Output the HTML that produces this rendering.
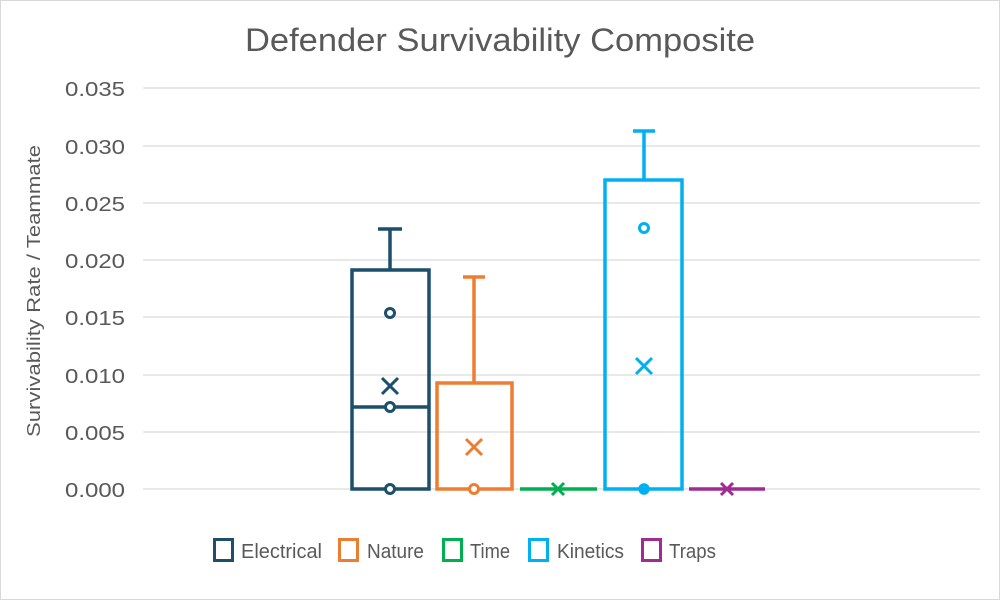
<!DOCTYPE html>
<html><head><meta charset="utf-8"><style>
html,body{margin:0;padding:0;background:#fff;}
svg{display:block;font-family:"Liberation Sans",sans-serif;}
</style></head><body>
<svg width="1000" height="600" viewBox="0 0 1000 600" xmlns="http://www.w3.org/2000/svg">
<rect x="0" y="0" width="1000" height="600" fill="#fff"/>
<rect x="0.5" y="0.5" width="999" height="599" fill="none" stroke="#d9d9d9"/>
<text x="245" y="51" font-size="32" fill="#595959" textLength="510" lengthAdjust="spacingAndGlyphs">Defender Survivability Composite</text>
<g stroke="#d9d9d9" stroke-width="1.3">
<line x1="143" x2="980" y1="88" y2="88"/>
<line x1="143" x2="980" y1="146" y2="146"/>
<line x1="143" x2="980" y1="203" y2="203"/>
<line x1="143" x2="980" y1="260" y2="260"/>
<line x1="143" x2="980" y1="317" y2="317"/>
<line x1="143" x2="980" y1="375" y2="375"/>
<line x1="143" x2="980" y1="432" y2="432"/>
<line x1="143" x2="980" y1="489" y2="489"/>
</g>
<g font-size="20" fill="#595959">
<text x="65" y="96" textLength="60" lengthAdjust="spacingAndGlyphs">0.035</text>
<text x="65" y="154" textLength="60" lengthAdjust="spacingAndGlyphs">0.030</text>
<text x="65" y="211" textLength="60" lengthAdjust="spacingAndGlyphs">0.025</text>
<text x="65" y="268" textLength="60" lengthAdjust="spacingAndGlyphs">0.020</text>
<text x="65" y="325" textLength="60" lengthAdjust="spacingAndGlyphs">0.015</text>
<text x="65" y="383" textLength="60" lengthAdjust="spacingAndGlyphs">0.010</text>
<text x="65" y="440" textLength="60" lengthAdjust="spacingAndGlyphs">0.005</text>
<text x="65" y="497" textLength="60" lengthAdjust="spacingAndGlyphs">0.000</text>
</g>
<text transform="translate(40,437) rotate(-90)" font-size="18" fill="#595959" textLength="292" lengthAdjust="spacingAndGlyphs">Survivability  Rate / Teammate</text>
<g fill="none" stroke-width="3.5">
<g stroke="#1b4f6b">
<rect x="352" y="270" width="77" height="219"/>
<line x1="352" x2="429" y1="407" y2="407"/>
<line x1="390" x2="390" y1="270" y2="229"/>
<line x1="378" x2="402" y1="229" y2="229"/>
<circle cx="390" cy="313" r="4.5" stroke-width="3" fill="#fff"/>
<circle cx="390" cy="407" r="4.5" stroke-width="3" fill="#fff"/>
<circle cx="390" cy="489" r="4.5" stroke-width="3" fill="#fff"/>
<path d="M382 378 L398 394 M398 378 L382 394" stroke-width="3"/>
</g>
<g stroke="#ed7d31">
<rect x="437" y="383" width="75" height="106"/>
<line x1="474" x2="474" y1="383" y2="277"/>
<line x1="463" x2="485" y1="277" y2="277"/>
<circle cx="474" cy="489" r="4.5" stroke-width="3" fill="#fff"/>
<path d="M466 439 L482 455 M482 439 L466 455" stroke-width="3"/>
</g>
<g stroke="#00b050">
<line x1="520" x2="597" y1="489" y2="489"/>
<path d="M552 483 L564 495 M564 483 L552 495" stroke-width="3"/>
</g>
<g stroke="#00b0f0">
<rect x="605" y="180" width="77" height="309"/>
<line x1="644" x2="644" y1="180" y2="131"/>
<line x1="633" x2="655" y1="131" y2="131"/>
<circle cx="644" cy="228" r="4.5" stroke-width="3" fill="#fff"/>
<circle cx="644" cy="489" r="5" fill="#00b0f0" stroke-width="1.5"/>
<path d="M636 358 L652 374 M652 358 L636 374" stroke-width="3"/>
</g>
<g stroke="#a02b93">
<line x1="689" x2="765" y1="489" y2="489"/>
<path d="M721 483 L733 495 M733 483 L721 495" stroke-width="3"/>
</g>
</g>
<g fill="none" stroke-width="3">
<rect x="214.5" y="539.5" width="18" height="21" stroke="#1b4f6b"/>
<rect x="339.5" y="539.5" width="18" height="21" stroke="#ed7d31"/>
<rect x="443.5" y="539.5" width="18" height="21" stroke="#00b050"/>
<rect x="529.5" y="539.5" width="18" height="21" stroke="#00b0f0"/>
<rect x="642.5" y="539.5" width="18" height="21" stroke="#a02b93"/>
</g>
<g font-size="20" fill="#595959">
<text x="241" y="558" textLength="81" lengthAdjust="spacingAndGlyphs">Electrical</text>
<text x="367" y="558" textLength="57" lengthAdjust="spacingAndGlyphs">Nature</text>
<text x="470" y="558" textLength="40" lengthAdjust="spacingAndGlyphs">Time</text>
<text x="557" y="558" textLength="67" lengthAdjust="spacingAndGlyphs">Kinetics</text>
<text x="669" y="558" textLength="47" lengthAdjust="spacingAndGlyphs">Traps</text>
</g>
</svg>
</body></html>
